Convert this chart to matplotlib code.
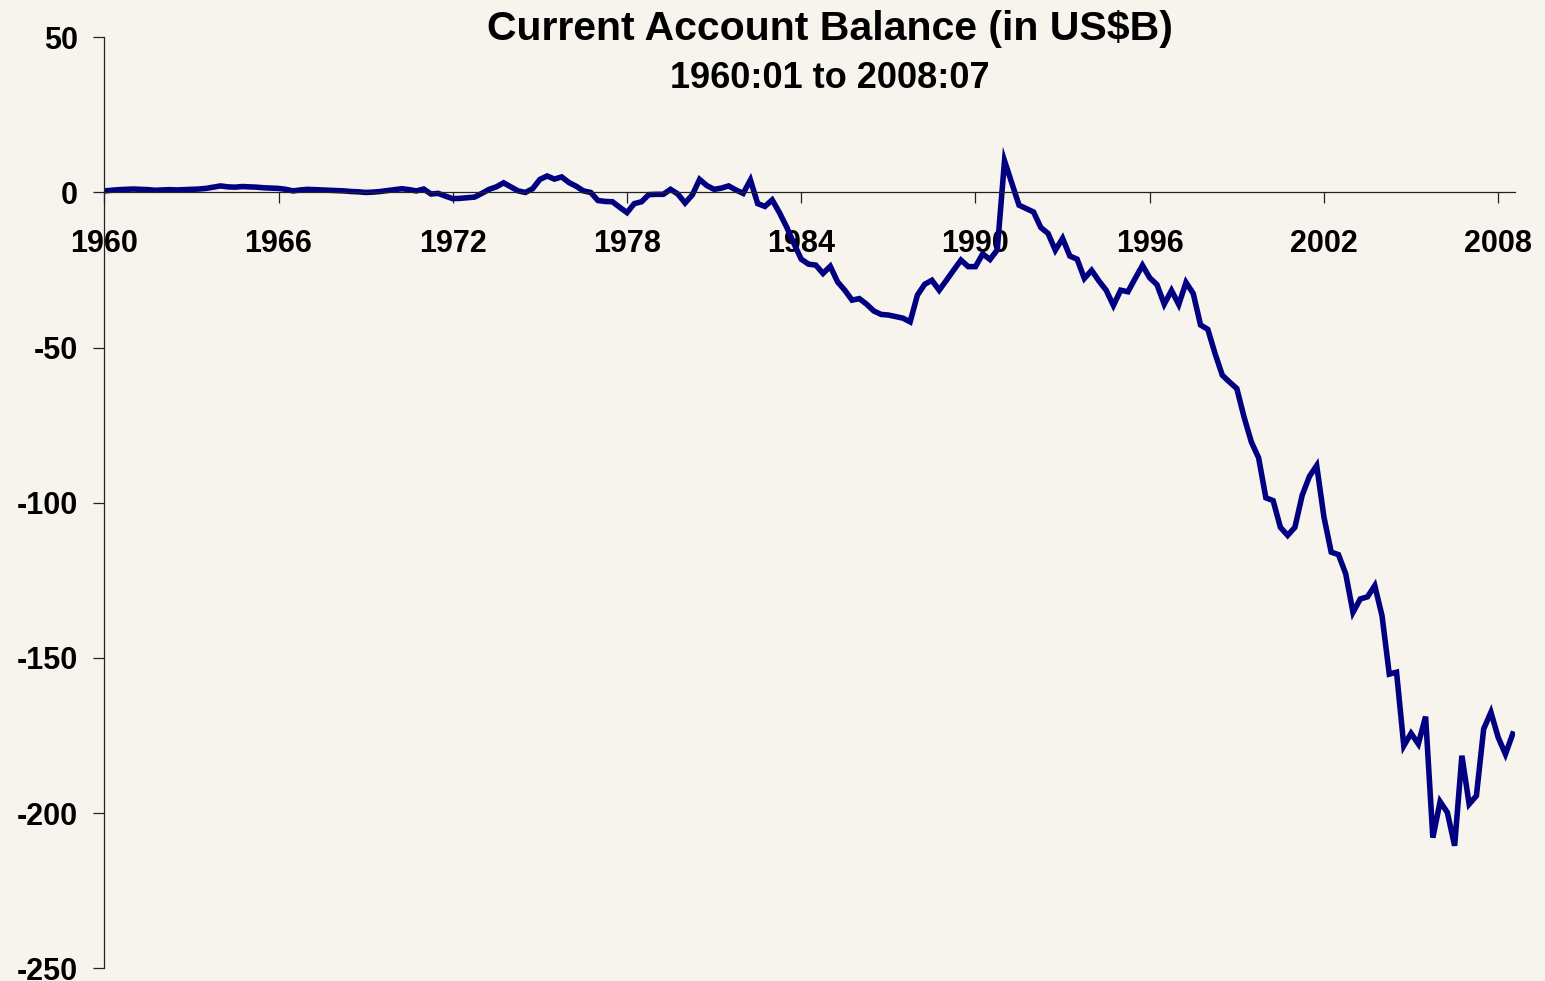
import matplotlib
matplotlib.use("Agg")
import matplotlib.pyplot as plt
import numpy as np

plt.rcParams['font.family'] = ['Liberation Sans', 'DejaVu Sans']
plt.rcParams['axes.unicode_minus'] = False

# quarterly current account balance, 1960Q1 onward (US$ billions)
balance = [
    0.5, 0.7, 0.9, 1.0, 1.1, 1.0, 0.9, 0.7, 0.8, 0.9,
    0.8, 0.9, 1.0, 1.1, 1.3, 1.7, 2.1, 1.8, 1.7, 1.9,
    1.8, 1.7, 1.5, 1.4, 1.3, 1.0, 0.5, 0.8, 1.0, 0.9,
    0.8, 0.7, 0.6, 0.5, 0.3, 0.2, 0.0, 0.1, 0.3, 0.6,
    0.9, 1.2, 0.9, 0.5, 1.1, -0.5, -0.3, -1.2, -2.0, -1.9,
    -1.7, -1.5, -0.3, 1.0, 1.8, 3.1, 1.8, 0.5, 0.0, 1.2,
    4.2, 5.3, 4.3, 5.0, 3.2, 2.0, 0.5, 0.0, -2.6, -2.9,
    -3.0, -4.8, -6.5, -3.6, -3.0, -0.7, -0.6, -0.6, 1.0, -0.5,
    -3.4, -0.8, 4.2, 2.2, 1.0, 1.4, 2.1, 0.8, -0.3, 4.0,
    -3.6, -4.5, -2.4, -6.5, -11.2, -16.5, -21.5, -23.1, -23.4, -26.1,
    -23.8, -28.8, -31.5, -34.7, -34.2, -36.0, -38.2, -39.3, -39.5, -40.0,
    -40.5, -41.7, -33.1, -29.6, -28.3, -31.5, -28.3, -25.0, -21.8, -23.9,
    -23.9, -19.8, -21.6, -18.5, 10.2, 3.0, -4.1, -5.2, -6.3, -11.3,
    -13.2, -18.6, -14.8, -20.5, -21.5, -27.7, -25.1, -28.5, -31.5, -36.4,
    -31.5, -32.0, -27.7, -23.5, -27.5, -29.7, -36.0, -31.6, -36.1, -29.0,
    -32.6, -42.7, -44.1, -51.9, -58.9, -61.1, -63.2, -72.4, -80.4, -85.5,
    -98.4, -99.3, -107.9, -110.5, -107.9, -97.6, -91.5, -88.0, -104.6, -115.9,
    -116.7, -122.9, -135.3, -131.0, -130.3, -126.7, -136.4, -155.2, -154.6, -178.3,
    -174.3, -177.7, -168.9, -207.9, -196.3, -199.8, -210.5, -181.5, -197.1, -194.4,
    -172.9, -167.5, -175.6, -181.0, -174.5,
]
years = 1960 + np.arange(len(balance)) / 4.0

xtick_years = [1960, 1966, 1972, 1978, 1984, 1990, 1996, 2002, 2008]
yticks = [50, 0, -50, -100, -150, -200, -250]

bg = '#F7F4EE'
fig = plt.figure(figsize=(15.45, 9.81), dpi=100, facecolor=bg)
ax = fig.add_axes([0.0675, 0.01295, 0.9131, 0.94905])
ax.set_facecolor(bg)

ax.plot(years, balance, color='#000080', linewidth=4.0, solid_joinstyle='miter')

ax.set_xlim(1960, 2008.58)
ax.set_ylim(-250, 50)

ax.spines['top'].set_visible(False)
ax.spines['right'].set_visible(False)
ax.spines['bottom'].set_position(('data', 0))
for s in ['left', 'bottom']:
    ax.spines[s].set_color('#222222')
    ax.spines[s].set_linewidth(0.9)

ax.set_xticks(xtick_years)
ax.set_xticklabels([str(y) for y in xtick_years])
ax.set_yticks(yticks)
ax.set_yticklabels([str(v) for v in yticks])
ax.tick_params(axis='x', direction='out', length=8, width=0.9, color='#222222',
               pad=18, labelsize=22)
ax.tick_params(axis='y', direction='out', length=8, width=0.9, color='#222222',
               pad=11, labelsize=22)
for lbl in ax.get_xticklabels() + ax.get_yticklabels():
    lbl.set_fontweight('bold')

fig.text(830 / 1545, 1 - 29 / 981, 'Current Account Balance (in US$B)',
         ha='center', va='center', fontsize=29.5, fontweight='bold')
fig.text(830 / 1545, 1 - 78 / 981, '1960:01 to 2008:07',
         ha='center', va='center', fontsize=26, fontweight='bold')

fig.savefig('out.png', dpi=100, facecolor=bg)
